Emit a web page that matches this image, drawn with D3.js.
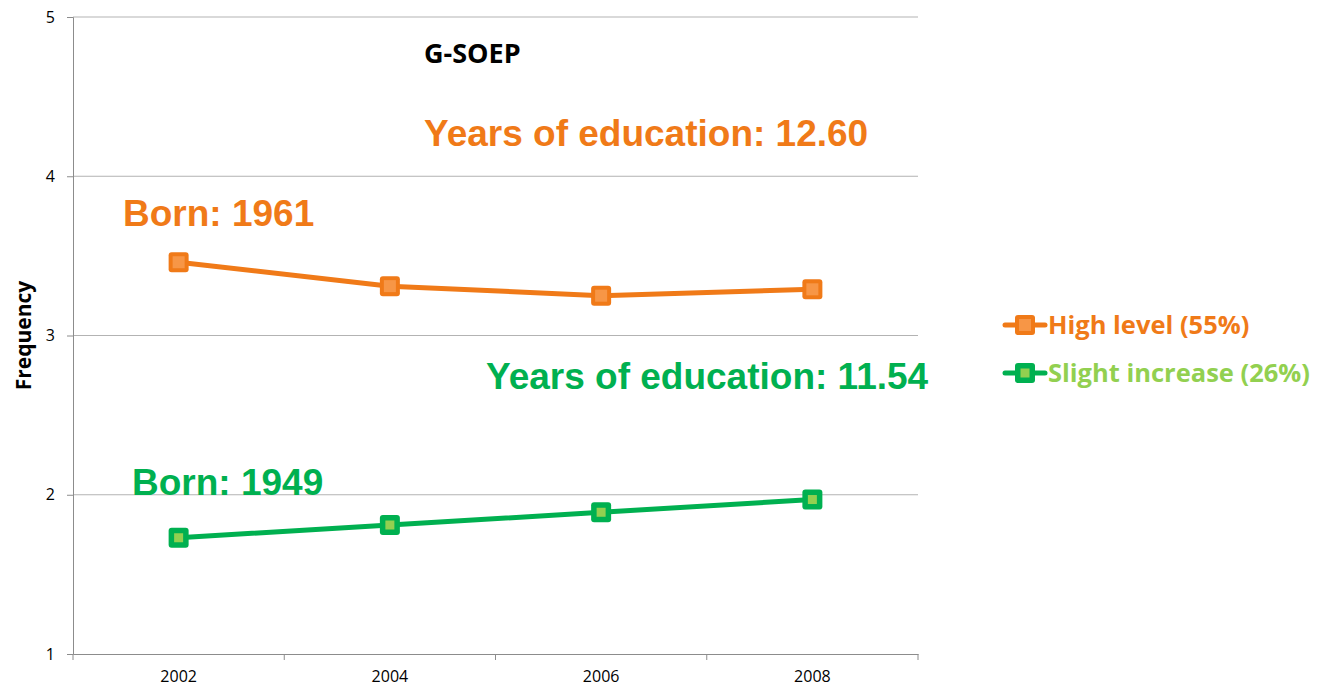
<!DOCTYPE html>
<html>
<head>
<meta charset="utf-8">
<script src="https://cdn.jsdelivr.net/npm/d3@7"></script>
<style>
  body { margin: 0; background: #fff; }
  svg { display: block; }
</style>
</head>
<body>
<div id="chart"></div>
<script>
// Data
const years = ["2002", "2004", "2006", "2008"];
const highLevel = [3.46, 3.31, 3.25, 3.29];
const slightIncrease = [1.73, 1.81, 1.89, 1.97];
const yTicks = [1, 2, 3, 4, 5];

const W = 1320, H = 686;
const plot = { left: 73, right: 918, top: 17, bottom: 654 };
const axisFont = "'Open Sans', 'Noto Sans', sans-serif";
const noteFont = "'Liberation Sans', Arial, sans-serif";

const svg = d3.select("#chart").append("svg")
  .attr("width", W).attr("height", H);

const x = d3.scaleBand().domain(years).range([plot.left, plot.right]);
const y = d3.scaleLinear().domain([1, 5]).range([plot.bottom, plot.top]);

// Gridlines
svg.append("g").selectAll("line").data(yTicks.filter(d => d > 1)).join("line")
  .attr("x1", plot.left).attr("x2", plot.right)
  .attr("y1", d => y(d)).attr("y2", d => y(d))
  .attr("stroke", "#b3b3b3").attr("stroke-width", 1);

// Y axis
const yAxis = svg.append("g")
  .attr("transform", `translate(${plot.left},0)`)
  .call(d3.axisLeft(y).tickValues(yTicks).tickSize(6).tickPadding(12).tickFormat(d3.format("d")));
yAxis.select(".domain").attr("stroke", "#8c8c8c");
yAxis.selectAll(".tick line").attr("stroke", "#8c8c8c");
yAxis.selectAll("text").attr("font-family", axisFont).attr("font-size", 16).attr("fill", "#000");

// X axis, ticks at band boundaries
const xAxis = svg.append("g")
  .attr("transform", `translate(0,${plot.bottom})`)
  .call(d3.axisBottom(x).tickSize(0).tickPadding(17));
xAxis.select(".domain").attr("stroke", "#8c8c8c");
xAxis.selectAll("text").attr("font-family", axisFont).attr("font-size", 16).attr("fill", "#000");
const bounds = years.map(d => x(d)).concat([plot.right]);
xAxis.selectAll(".bound").data(bounds).join("line")
  .attr("x1", d => d).attr("x2", d => d).attr("y1", 0).attr("y2", 6)
  .attr("stroke", "#8c8c8c");

// Y axis title
svg.append("text")
  .attr("transform", `translate(31,${(plot.top + plot.bottom) / 2}) rotate(-90)`)
  .attr("text-anchor", "middle")
  .attr("font-family", axisFont).attr("font-weight", "bold").attr("font-size", 21)
  .text("Frequency");

const series = [
  { name: "High level (55%)", values: highLevel, line: "#f07a18", fill: "#f79646", text: "#f07a18", inner: 10 },
  { name: "Slight increase (26%)", values: slightIncrease, line: "#00b050", fill: "#92d050", text: "#92d050", inner: 7 }
];

const lineGen = d3.line()
  .x((d, i) => x(years[i]) + x.bandwidth() / 2)
  .y(d => y(d));

series.forEach(s => {
  svg.append("path").datum(s.values)
    .attr("d", lineGen).attr("fill", "none")
    .attr("stroke", s.line).attr("stroke-width", 5);
  const g = svg.append("g").selectAll("g").data(s.values).join("g")
    .attr("transform", (d, i) => `translate(${x(years[i]) + x.bandwidth() / 2},${y(d)})`);
  g.append("rect").attr("x", -10).attr("y", -10).attr("width", 20).attr("height", 20)
    .attr("rx", 3).attr("fill", s.line);
  g.append("rect").attr("x", -s.inner / 2 - 1).attr("y", -s.inner / 2 - 1)
    .attr("width", s.inner + 2).attr("height", s.inner + 2).attr("fill", s.fill);
});

// Legend
const legend = svg.append("g").attr("transform", "translate(1005,0)");
const legendY = [325, 373];
series.forEach((s, i) => {
  const g = legend.append("g").attr("transform", `translate(0,${legendY[i]})`);
  g.append("line").attr("x1", 0).attr("x2", 40).attr("y1", 0).attr("y2", 0)
    .attr("stroke", s.line).attr("stroke-width", 5).attr("stroke-linecap", "round");
  g.append("rect").attr("x", 10).attr("y", -10).attr("width", 20).attr("height", 20)
    .attr("rx", 3).attr("fill", s.line);
  g.append("rect").attr("x", 20 - s.inner / 2 - 1).attr("y", -s.inner / 2 - 1)
    .attr("width", s.inner + 2).attr("height", s.inner + 2).attr("fill", s.fill);
  g.append("text").attr("x", 43).attr("y", 0).attr("dy", "0.35em")
    .attr("font-family", axisFont).attr("font-weight", "bold").attr("font-size", 25.5)
    .attr("fill", s.text).text(s.name);
});

// Annotations
const notes = [
  { text: "G-SOEP", x: 424, y: 63, size: 27, color: "#000", font: axisFont },
  { text: "Years of education: 12.60", x: 424, y: 146, size: 37, color: "#f07a18", font: noteFont },
  { text: "Born: 1961", x: 123, y: 226, size: 37, color: "#f07a18", font: noteFont },
  { text: "Years of education: 11.54", x: 486, y: 389, size: 37, color: "#00b050", font: noteFont },
  { text: "Born: 1949", x: 132, y: 495, size: 37, color: "#00b050", font: noteFont }
];
svg.append("g").selectAll("text").data(notes).join("text")
  .attr("x", d => d.x).attr("y", d => d.y)
  .attr("font-family", d => d.font).attr("font-weight", "bold")
  .attr("font-size", d => d.size).attr("fill", d => d.color)
  .text(d => d.text);
</script>
</body>
</html>
